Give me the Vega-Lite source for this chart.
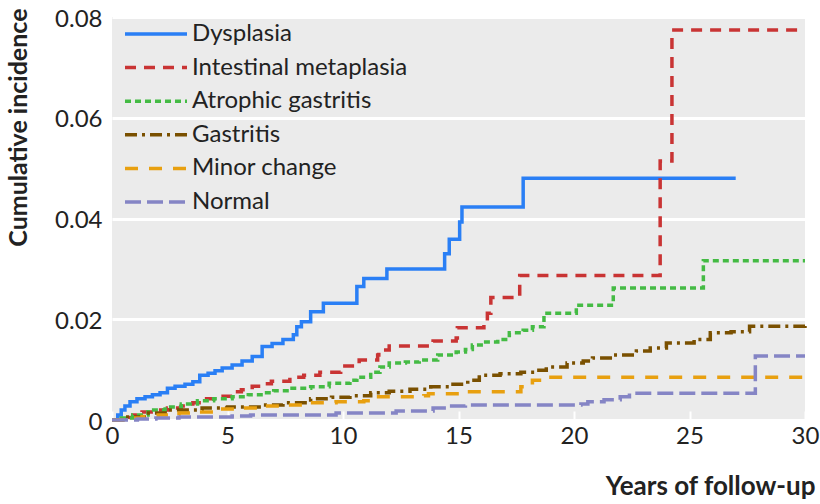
{
  "$schema": "https://vega.github.io/schema/vega-lite/v6.json",
  "width": 693,
  "height": 403,
  "autosize": {"type": "none"},
  "padding": {"left": 112, "top": 17, "right": 15, "bottom": 84},
  "background": "white",
  "config": {
    "view": {"fill": "#ebebeb", "stroke": null},
    "font": "Lato",
    "legend": {
      "orient": "none",
      "legendX": 11,
      "legendY": 5,
      "title": null,
      "symbolType": "stroke",
      "symbolSize": 3844,
      "symbolStrokeWidth": 3.5,
      "clipHeight": 24,
      "rowPadding": 9.6,
      "labelOffset": 3,
      "labelLimit": 0,
      "labelFont": "Lato",
      "labelFontSize": 24,
      "labelColor": "#222222",
      "padding": 0
    }
  },
  "data": {
    "values": [
      {"g": "Dysplasia", "t": 0, "v": 0},
      {"g": "Dysplasia", "t": 0.25, "v": 0.001},
      {"g": "Dysplasia", "t": 0.4, "v": 0.002},
      {"g": "Dysplasia", "t": 0.56, "v": 0.0028},
      {"g": "Dysplasia", "t": 0.78, "v": 0.0036},
      {"g": "Dysplasia", "t": 1.08, "v": 0.0042},
      {"g": "Dysplasia", "t": 1.43, "v": 0.0046},
      {"g": "Dysplasia", "t": 1.75, "v": 0.005},
      {"g": "Dysplasia", "t": 2.08, "v": 0.0054},
      {"g": "Dysplasia", "t": 2.4, "v": 0.0063},
      {"g": "Dysplasia", "t": 2.73, "v": 0.0067},
      {"g": "Dysplasia", "t": 3.16, "v": 0.0071},
      {"g": "Dysplasia", "t": 3.5, "v": 0.0076},
      {"g": "Dysplasia", "t": 3.8, "v": 0.0089},
      {"g": "Dysplasia", "t": 4.16, "v": 0.0093},
      {"g": "Dysplasia", "t": 4.46, "v": 0.0098},
      {"g": "Dysplasia", "t": 4.77, "v": 0.0103},
      {"g": "Dysplasia", "t": 5.2, "v": 0.0109},
      {"g": "Dysplasia", "t": 5.63, "v": 0.0117},
      {"g": "Dysplasia", "t": 6.07, "v": 0.0126},
      {"g": "Dysplasia", "t": 6.5, "v": 0.0146},
      {"g": "Dysplasia", "t": 6.93, "v": 0.0152},
      {"g": "Dysplasia", "t": 7.4, "v": 0.016},
      {"g": "Dysplasia", "t": 7.85, "v": 0.0169},
      {"g": "Dysplasia", "t": 8.0, "v": 0.0185},
      {"g": "Dysplasia", "t": 8.2, "v": 0.0195},
      {"g": "Dysplasia", "t": 8.6, "v": 0.0215},
      {"g": "Dysplasia", "t": 9.15, "v": 0.0232},
      {"g": "Dysplasia", "t": 10.6, "v": 0.0265},
      {"g": "Dysplasia", "t": 10.9, "v": 0.0281},
      {"g": "Dysplasia", "t": 11.9, "v": 0.03},
      {"g": "Dysplasia", "t": 14.4, "v": 0.033},
      {"g": "Dysplasia", "t": 14.6, "v": 0.0359},
      {"g": "Dysplasia", "t": 15.05, "v": 0.0393},
      {"g": "Dysplasia", "t": 15.15, "v": 0.0423},
      {"g": "Dysplasia", "t": 17.8, "v": 0.048},
      {"g": "Dysplasia", "t": 27.0, "v": 0.048},

      {"g": "Intestinal metaplasia", "t": 0, "v": 0},
      {"g": "Intestinal metaplasia", "t": 0.5, "v": 0.0005},
      {"g": "Intestinal metaplasia", "t": 0.9, "v": 0.001},
      {"g": "Intestinal metaplasia", "t": 1.3, "v": 0.0016},
      {"g": "Intestinal metaplasia", "t": 1.86, "v": 0.002},
      {"g": "Intestinal metaplasia", "t": 2.4, "v": 0.0024},
      {"g": "Intestinal metaplasia", "t": 3.0, "v": 0.0028},
      {"g": "Intestinal metaplasia", "t": 3.5, "v": 0.0034},
      {"g": "Intestinal metaplasia", "t": 4.0, "v": 0.0042},
      {"g": "Intestinal metaplasia", "t": 4.6, "v": 0.0047},
      {"g": "Intestinal metaplasia", "t": 5.2, "v": 0.0056},
      {"g": "Intestinal metaplasia", "t": 5.6, "v": 0.006},
      {"g": "Intestinal metaplasia", "t": 6.07, "v": 0.0067},
      {"g": "Intestinal metaplasia", "t": 6.5, "v": 0.0072},
      {"g": "Intestinal metaplasia", "t": 6.9, "v": 0.0077},
      {"g": "Intestinal metaplasia", "t": 7.7, "v": 0.0085},
      {"g": "Intestinal metaplasia", "t": 8.3, "v": 0.0089},
      {"g": "Intestinal metaplasia", "t": 9.0, "v": 0.0095},
      {"g": "Intestinal metaplasia", "t": 9.9, "v": 0.0107},
      {"g": "Intestinal metaplasia", "t": 10.7, "v": 0.0119},
      {"g": "Intestinal metaplasia", "t": 11.5, "v": 0.0129},
      {"g": "Intestinal metaplasia", "t": 11.55, "v": 0.0139},
      {"g": "Intestinal metaplasia", "t": 12.0, "v": 0.0147},
      {"g": "Intestinal metaplasia", "t": 13.9, "v": 0.0157},
      {"g": "Intestinal metaplasia", "t": 14.9, "v": 0.0163},
      {"g": "Intestinal metaplasia", "t": 14.95, "v": 0.0183},
      {"g": "Intestinal metaplasia", "t": 16.1, "v": 0.0195},
      {"g": "Intestinal metaplasia", "t": 16.25, "v": 0.0212},
      {"g": "Intestinal metaplasia", "t": 16.4, "v": 0.0243},
      {"g": "Intestinal metaplasia", "t": 17.65, "v": 0.0287},
      {"g": "Intestinal metaplasia", "t": 23.73, "v": 0.0514},
      {"g": "Intestinal metaplasia", "t": 24.24, "v": 0.0774},
      {"g": "Intestinal metaplasia", "t": 30, "v": 0.0774},

      {"g": "Atrophic gastritis", "t": 0, "v": 0},
      {"g": "Atrophic gastritis", "t": 0.4, "v": 0.0004},
      {"g": "Atrophic gastritis", "t": 0.9, "v": 0.001},
      {"g": "Atrophic gastritis", "t": 1.56, "v": 0.002},
      {"g": "Atrophic gastritis", "t": 2.3, "v": 0.0026},
      {"g": "Atrophic gastritis", "t": 3.0, "v": 0.0032},
      {"g": "Atrophic gastritis", "t": 3.7, "v": 0.0038},
      {"g": "Atrophic gastritis", "t": 4.4, "v": 0.0042},
      {"g": "Atrophic gastritis", "t": 5.2, "v": 0.0046},
      {"g": "Atrophic gastritis", "t": 5.9, "v": 0.005},
      {"g": "Atrophic gastritis", "t": 6.6, "v": 0.0054},
      {"g": "Atrophic gastritis", "t": 7.0, "v": 0.0058},
      {"g": "Atrophic gastritis", "t": 7.7, "v": 0.0063},
      {"g": "Atrophic gastritis", "t": 8.6, "v": 0.0066},
      {"g": "Atrophic gastritis", "t": 9.4, "v": 0.0073},
      {"g": "Atrophic gastritis", "t": 10.3, "v": 0.0079},
      {"g": "Atrophic gastritis", "t": 10.6, "v": 0.0085},
      {"g": "Atrophic gastritis", "t": 11.2, "v": 0.0095},
      {"g": "Atrophic gastritis", "t": 11.6, "v": 0.0105},
      {"g": "Atrophic gastritis", "t": 12.0, "v": 0.0113},
      {"g": "Atrophic gastritis", "t": 12.7, "v": 0.0115},
      {"g": "Atrophic gastritis", "t": 13.3, "v": 0.0119},
      {"g": "Atrophic gastritis", "t": 14.1, "v": 0.0129},
      {"g": "Atrophic gastritis", "t": 14.9, "v": 0.0135},
      {"g": "Atrophic gastritis", "t": 15.3, "v": 0.014},
      {"g": "Atrophic gastritis", "t": 15.6, "v": 0.0149},
      {"g": "Atrophic gastritis", "t": 16.1, "v": 0.0155},
      {"g": "Atrophic gastritis", "t": 16.7, "v": 0.016},
      {"g": "Atrophic gastritis", "t": 17.2, "v": 0.0173},
      {"g": "Atrophic gastritis", "t": 17.8, "v": 0.0178},
      {"g": "Atrophic gastritis", "t": 18.2, "v": 0.0185},
      {"g": "Atrophic gastritis", "t": 18.7, "v": 0.0212},
      {"g": "Atrophic gastritis", "t": 20.1, "v": 0.0228},
      {"g": "Atrophic gastritis", "t": 21.7, "v": 0.0262},
      {"g": "Atrophic gastritis", "t": 25.6, "v": 0.0316},
      {"g": "Atrophic gastritis", "t": 30, "v": 0.0316},

      {"g": "Gastritis", "t": 0, "v": 0},
      {"g": "Gastritis", "t": 0.6, "v": 0.0006},
      {"g": "Gastritis", "t": 1.4, "v": 0.0014},
      {"g": "Gastritis", "t": 2.3, "v": 0.002},
      {"g": "Gastritis", "t": 3.9, "v": 0.0024},
      {"g": "Gastritis", "t": 5.0, "v": 0.0026},
      {"g": "Gastritis", "t": 6.5, "v": 0.003},
      {"g": "Gastritis", "t": 7.4, "v": 0.0034},
      {"g": "Gastritis", "t": 8.6, "v": 0.0042},
      {"g": "Gastritis", "t": 9.5, "v": 0.0045},
      {"g": "Gastritis", "t": 10.3, "v": 0.0048},
      {"g": "Gastritis", "t": 11.2, "v": 0.0054},
      {"g": "Gastritis", "t": 12.0, "v": 0.0057},
      {"g": "Gastritis", "t": 12.9, "v": 0.0061},
      {"g": "Gastritis", "t": 13.8, "v": 0.0066},
      {"g": "Gastritis", "t": 14.6, "v": 0.0071},
      {"g": "Gastritis", "t": 15.4, "v": 0.0079},
      {"g": "Gastritis", "t": 15.9, "v": 0.0089},
      {"g": "Gastritis", "t": 16.8, "v": 0.0092},
      {"g": "Gastritis", "t": 17.7, "v": 0.0095},
      {"g": "Gastritis", "t": 18.4, "v": 0.0099},
      {"g": "Gastritis", "t": 18.8, "v": 0.0105},
      {"g": "Gastritis", "t": 19.7, "v": 0.0113},
      {"g": "Gastritis", "t": 20.4, "v": 0.0117},
      {"g": "Gastritis", "t": 20.8, "v": 0.0123},
      {"g": "Gastritis", "t": 21.7, "v": 0.0129},
      {"g": "Gastritis", "t": 22.7, "v": 0.0137},
      {"g": "Gastritis", "t": 23.3, "v": 0.0143},
      {"g": "Gastritis", "t": 24.0, "v": 0.0153},
      {"g": "Gastritis", "t": 25.2, "v": 0.016},
      {"g": "Gastritis", "t": 25.9, "v": 0.0173},
      {"g": "Gastritis", "t": 26.8, "v": 0.0175},
      {"g": "Gastritis", "t": 27.6, "v": 0.0186},
      {"g": "Gastritis", "t": 30, "v": 0.0187},

      {"g": "Minor change", "t": 0, "v": 0},
      {"g": "Minor change", "t": 0.6, "v": 0.0004},
      {"g": "Minor change", "t": 1.3, "v": 0.0007},
      {"g": "Minor change", "t": 2.0, "v": 0.001},
      {"g": "Minor change", "t": 2.9, "v": 0.0014},
      {"g": "Minor change", "t": 3.7, "v": 0.0016},
      {"g": "Minor change", "t": 4.6, "v": 0.0022},
      {"g": "Minor change", "t": 5.5, "v": 0.0024},
      {"g": "Minor change", "t": 6.3, "v": 0.0028},
      {"g": "Minor change", "t": 7.4, "v": 0.003},
      {"g": "Minor change", "t": 8.3, "v": 0.0034},
      {"g": "Minor change", "t": 9.7, "v": 0.0036},
      {"g": "Minor change", "t": 10.9, "v": 0.0038},
      {"g": "Minor change", "t": 11.2, "v": 0.0046},
      {"g": "Minor change", "t": 13.5, "v": 0.0048},
      {"g": "Minor change", "t": 13.7, "v": 0.0052},
      {"g": "Minor change", "t": 15.2, "v": 0.0056},
      {"g": "Minor change", "t": 17.7, "v": 0.0066},
      {"g": "Minor change", "t": 18.2, "v": 0.0079},
      {"g": "Minor change", "t": 18.6, "v": 0.0085},
      {"g": "Minor change", "t": 30, "v": 0.0085},

      {"g": "Normal", "t": 0, "v": 0},
      {"g": "Normal", "t": 1.1, "v": 0.0002},
      {"g": "Normal", "t": 1.9, "v": 0.0004},
      {"g": "Normal", "t": 2.9, "v": 0.0006},
      {"g": "Normal", "t": 5.2, "v": 0.0008},
      {"g": "Normal", "t": 6.0, "v": 0.001},
      {"g": "Normal", "t": 9.7, "v": 0.0014},
      {"g": "Normal", "t": 12.3, "v": 0.0018},
      {"g": "Normal", "t": 13.9, "v": 0.0024},
      {"g": "Normal", "t": 14.6, "v": 0.0028},
      {"g": "Normal", "t": 15.3, "v": 0.003},
      {"g": "Normal", "t": 20.3, "v": 0.0032},
      {"g": "Normal", "t": 20.6, "v": 0.0036},
      {"g": "Normal", "t": 21.3, "v": 0.004},
      {"g": "Normal", "t": 22.0, "v": 0.0046},
      {"g": "Normal", "t": 22.4, "v": 0.0053},
      {"g": "Normal", "t": 27.85, "v": 0.0127},
      {"g": "Normal", "t": 30, "v": 0.0127}
    ]
  },
  "mark": {"type": "line", "interpolate": "step-after", "strokeWidth": 3.5, "strokeCap": "butt"},
  "encoding": {
    "x": {
      "field": "t", "type": "quantitative",
      "scale": {"domain": [0, 30], "nice": false},
      "axis": {
        "title": "Years of follow-up",
        "values": [0, 5, 10, 15, 20, 25, 30],
        "grid": false, "domain": false,
        "tickColor": "white", "tickSize": -9, "tickWidth": 2,
        "labelFont": "Lato", "labelFontSize": 24, "labelColor": "#222222", "labelPadding": 13,
        "labelFlush": false,
        "titleFont": "Lato", "titleFontSize": 26, "titleFontWeight": "bold", "titleColor": "#222222",
        "titleAlign": "right", "titleAnchor": "end", "titleBaseline": "alphabetic",
        "titleX": 703, "titleY": 74
      }
    },
    "y": {
      "field": "v", "type": "quantitative",
      "scale": {"domain": [0, 0.08], "nice": false},
      "axis": {
        "title": "Cumulative incidence",
        "values": [0, 0.02, 0.04, 0.06, 0.08],
        "labelExpr": "datum.value == 0 ? '0' : format(datum.value, '.2f')",
        "grid": true, "gridColor": "white", "gridWidth": 3,
        "ticks": false, "domain": false,
        "labelFont": "Lato", "labelFontSize": 24, "labelColor": "#222222", "labelPadding": 10,
        "labelOffset": 2,
        "titleFont": "Lato", "titleFontSize": 25, "titleFontWeight": "bold", "titleColor": "#222222",
        "titleAngle": -90, "titleAlign": "right", "titleBaseline": "alphabetic",
        "titleX": -86, "titleY": -9
      }
    },
    "color": {
      "field": "g", "type": "nominal",
      "scale": {
        "domain": ["Dysplasia", "Intestinal metaplasia", "Atrophic gastritis", "Gastritis", "Minor change", "Normal"],
        "range": ["#2a7ff5", "#c93434", "#44bb44", "#7a5000", "#e8a010", "#8585c5"]
      },
      "legend": {"title": null}
    },
    "strokeDash": {
      "field": "g", "type": "nominal",
      "scale": {
        "domain": ["Dysplasia", "Intestinal metaplasia", "Atrophic gastritis", "Gastritis", "Minor change", "Normal"],
        "range": [[1, 0], [11, 8], [6, 4], [12, 5, 3, 5], [13, 11], [16, 6]]
      },
      "legend": {"title": null}
    }
  }
}
